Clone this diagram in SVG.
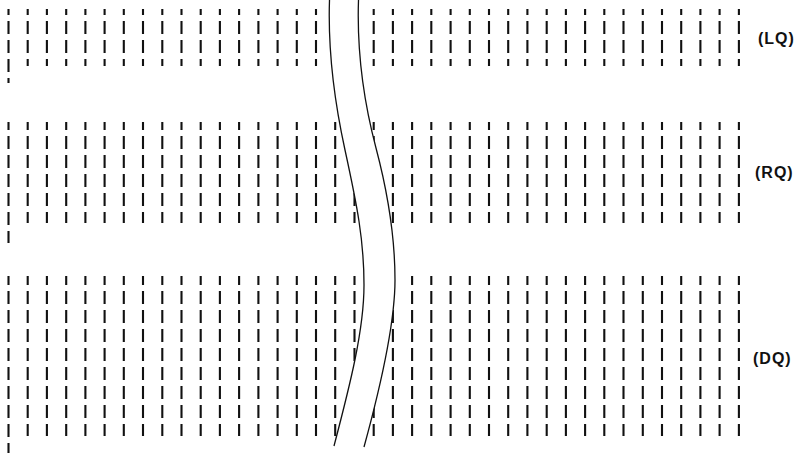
<svg xmlns="http://www.w3.org/2000/svg" width="800" height="453" viewBox="0 0 800 453">
<style>
.cols{fill:none;stroke:#111;stroke-width:2.1;stroke-dasharray:13 6}
.brk{fill:none;stroke:#111;stroke-width:1.3}
.lbl{font-family:"Liberation Sans",Arial,sans-serif;font-size:16px;font-weight:bold;fill:#111;letter-spacing:1px}
</style>
<rect width="800" height="453" fill="#fff"/>
<g id="band-lq">
<path class="cols" stroke-dashoffset="7" d="M8.5 9V83M27.7 9V66M46.9 9V66M66.2 9V66M85.4 9V66M104.6 9V66M123.8 9V66M143 9V66M162.3 9V66M181.5 9V66M200.7 9V66M219.9 9V66M239.1 9V66M258.4 9V66M277.6 9V66M296.8 9V66M316 9V66M335.2 9V66M354.5 9V66M373.7 9V66M392.9 9V66M412.1 9V66M431.3 9V66M450.6 9V66M469.8 9V66M489 9V66M508.2 9V66M527.4 9V66M546.7 9V66M565.9 9V66M585.1 9V66M604.3 9V66M623.5 9V66M642.8 9V66M662 9V66M681.2 9V66M700.4 9V66M719.6 9V66M738.9 9V66"/>
</g>
<g id="band-rq">
<path class="cols" stroke-dashoffset="5" d="M8.5 122V243M27.7 122V223M46.9 122V223M66.2 122V223M85.4 122V223M104.6 122V223M123.8 122V223M143 122V223M162.3 122V223M181.5 122V223M200.7 122V223M219.9 122V223M239.1 122V223M258.4 122V223M277.6 122V223M296.8 122V223M316 122V223M335.2 122V223M354.5 122V223M373.7 122V223M392.9 122V223M412.1 122V223M431.3 122V223M450.6 122V223M469.8 122V223M489 122V223M508.2 122V223M527.4 122V223M546.7 122V223M565.9 122V223M585.1 122V223M604.3 122V223M623.5 122V223M642.8 122V223M662 122V223M681.2 122V223M700.4 122V223M719.6 122V223M738.9 122V223"/>
</g>
<g id="band-dq">
<path class="cols" stroke-dashoffset="4" d="M8.5 276V453M27.7 276V436M46.9 276V436M66.2 276V436M85.4 276V436M104.6 276V436M123.8 276V436M143 276V436M162.3 276V436M181.5 276V436M200.7 276V436M219.9 276V436M239.1 276V436M258.4 276V436M277.6 276V436M296.8 276V436M316 276V436M335.2 276V436M354.5 276V436M373.7 276V436M392.9 276V436M412.1 276V436M431.3 276V436M450.6 276V436M469.8 276V436M489 276V436M508.2 276V436M527.4 276V436M546.7 276V436M565.9 276V436M585.1 276V436M604.3 276V436M623.5 276V436M642.8 276V436M662 276V436M681.2 276V436M700.4 276V436M719.6 276V436M738.9 276V436"/>
</g>
<g id="break">
<path fill="#fff" stroke="none" d="M329.5 -2L329.5 0C328 45 333 95 345 150C357 205 364 240 364 285C364 330 350 385 334 446L364 447C381 385 395 320 395 280C395 240 390 201 376 148C362 95 357 45 358.5 0L358.5 -2Z"/>
<path class="brk" d="M329.5 0C328 45 333 95 345 150C357 205 364 240 364 285C364 330 350 385 334 446"/>
<path class="brk" d="M358.5 0C357 45 362 95 376 148C390 201 395 240 395 280C395 320 381 385 364 447"/>
</g>
<g id="labels">
<text class="lbl" x="758" y="44">(LQ)</text>
<text class="lbl" x="755" y="178">(RQ)</text>
<text class="lbl" x="753" y="364">(DQ)</text>
</g>
</svg>
